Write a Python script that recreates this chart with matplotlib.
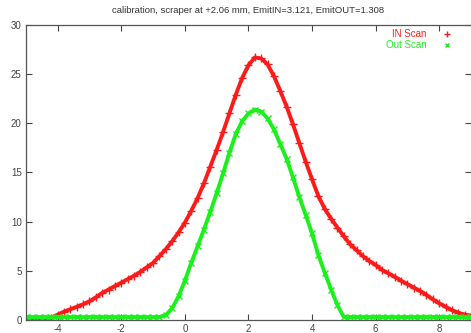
import matplotlib
matplotlib.use("Agg")
import matplotlib.pyplot as plt

plt.rcParams['font.family'] = ['Liberation Sans', 'DejaVu Sans']
plt.rcParams['axes.unicode_minus'] = False

# scan positions (mm), every 0.2 from -5 to 9
x_pos = [round(-5.0 + 0.2 * i, 1) for i in range(71)]

in_scan = [0.0, 0.0, 0.0, 0.05, 0.25, 0.55, 0.85, 1.1, 1.35, 1.6,
           1.9, 2.3, 2.75, 3.1, 3.45, 3.8, 4.15, 4.5, 4.9, 5.35,
           5.8, 6.5, 7.2, 8.0, 8.9, 9.9, 11.1, 12.4, 13.9, 15.6,
           17.3, 19.1, 21.0, 22.9, 24.6, 25.9, 26.7, 26.6, 26.0, 24.8,
           23.3, 21.7, 19.9, 18.0, 16.1, 14.3, 12.6, 11.3, 10.3, 9.4,
           8.5, 7.7, 7.1, 6.5, 6.0, 5.6, 5.1, 4.75, 4.4, 4.0,
           3.65, 3.3, 2.95, 2.55, 2.1, 1.7, 1.35, 1.0, 0.75, 0.55,
           0.45]

out_scan = [0.3, 0.3, 0.3, 0.3, 0.3, 0.3, 0.3, 0.3, 0.3, 0.3,
            0.3, 0.3, 0.3, 0.3, 0.3, 0.3, 0.3, 0.3, 0.3, 0.3,
            0.3, 0.3, 0.5, 1.2, 2.4, 4.0, 5.8, 7.5, 9.2, 11.0,
            12.9, 14.9, 17.0, 18.9, 20.2, 21.0, 21.4, 21.2, 20.5, 19.4,
            17.9, 16.4, 14.5, 12.5, 10.7, 8.8, 6.6, 4.8, 3.1, 1.5,
            0.3, 0.3, 0.3, 0.3, 0.3, 0.3, 0.3, 0.3, 0.3, 0.3,
            0.3, 0.3, 0.3, 0.3, 0.3, 0.3, 0.3, 0.3, 0.3, 0.3,
            0.3]

x_ticks = [-4, -2, 0, 2, 4, 6, 8]
y_ticks = [0, 5, 10, 15, 20, 25, 30]

red = '#ff1a1a'
green = '#1af01a'

fig = plt.figure(figsize=(4.71, 3.33), dpi=100)
ax = fig.add_axes([0.055, 0.039, 0.945, 0.886])

ax.plot(x_pos, in_scan, color=red, lw=2.8, marker='+', ms=6, mew=1.0)
ax.plot(x_pos, out_scan, color=green, lw=2.8, marker='x', ms=5, mew=1.0)

ax.set_xlim(-5, 9)
ax.set_ylim(0, 30)
ax.set_xticks(x_ticks)
ax.set_yticks(y_ticks)
ax.tick_params(direction='in', length=4, width=0.8, color='#444444',
               labelsize=7, labelcolor='#444444', top=True, right=True, pad=3)
for s in ['left', 'bottom', 'top']:
    ax.spines[s].set_color('#555555')
    ax.spines[s].set_linewidth(0.9)
ax.spines['right'].set_visible(False)

fig.text(0.527, 0.967, 'calibration, scraper at +2.06 mm, EmitIN=3.121, EmitOUT=1.308',
         ha='center', va='center', fontsize=6.8, color='#333333')

# key in the corner, gnuplot style
fig.text(0.905, 0.898, 'IN Scan', ha='right', va='center', fontsize=7, color=red)
fig.text(0.905, 0.866, 'Out Scan', ha='right', va='center', fontsize=7, color=green)
fig.lines.append(plt.Line2D([0.949], [0.898], transform=fig.transFigure,
                            marker='+', ms=4, mew=1, color=red, ls='none'))
fig.lines.append(plt.Line2D([0.949], [0.866], transform=fig.transFigure,
                            marker='x', ms=3, mew=1, color=green, ls='none'))

fig.savefig('out.png', dpi=100)
